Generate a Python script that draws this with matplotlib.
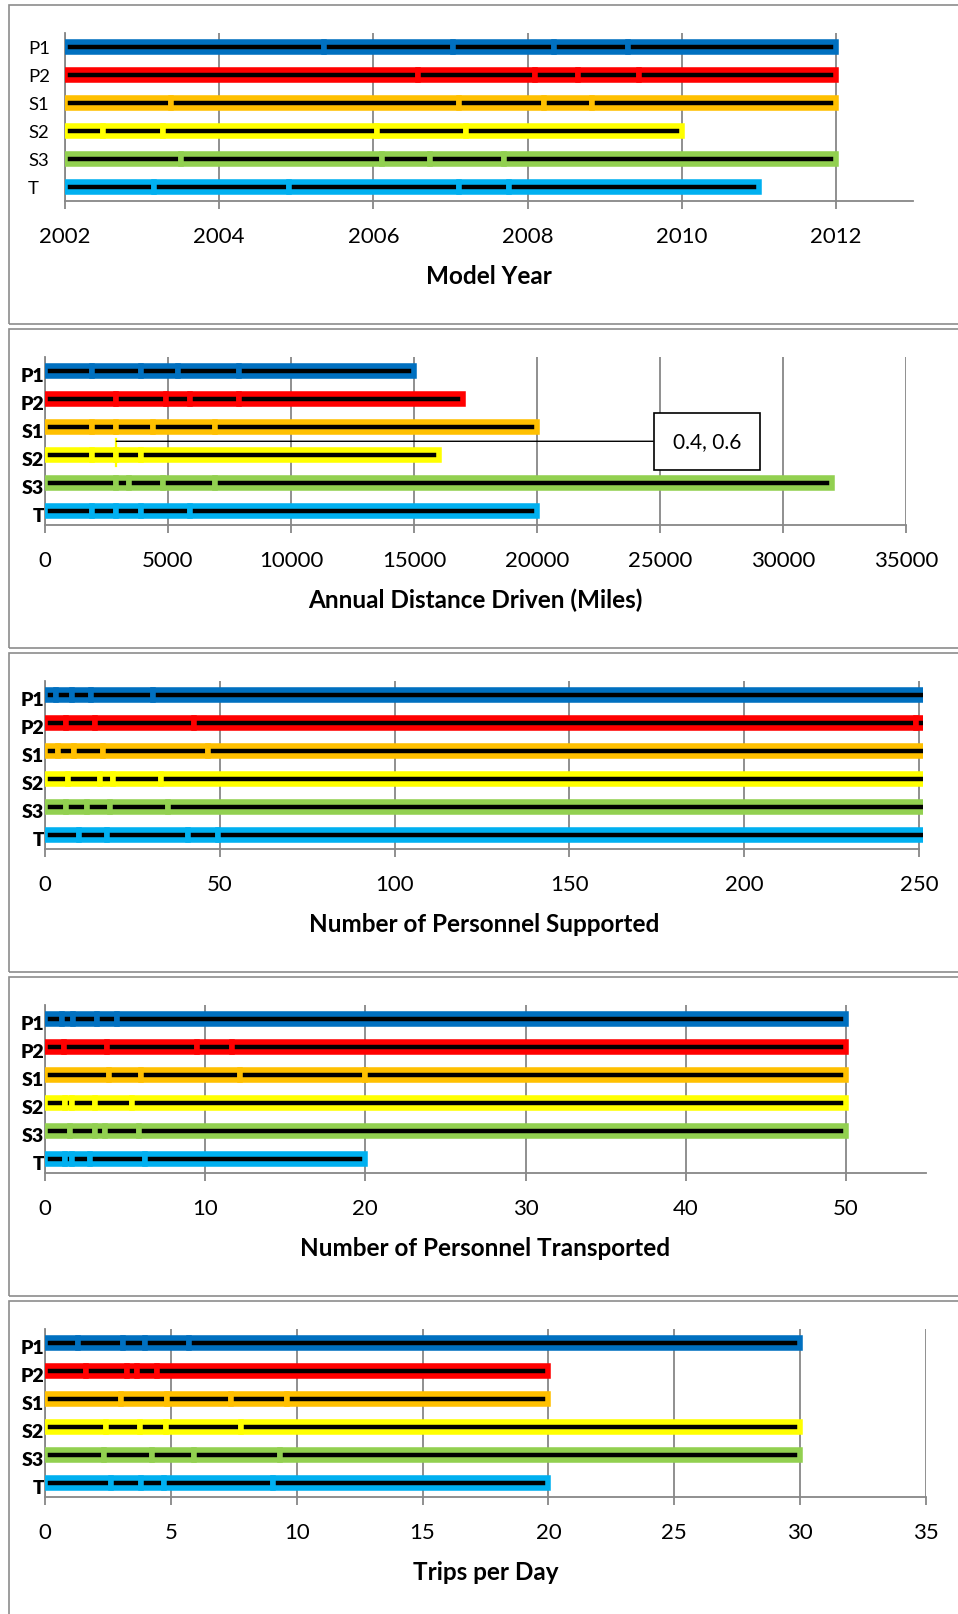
import matplotlib
matplotlib.use("Agg")
import matplotlib.pyplot as plt
from matplotlib.patches import Rectangle
from matplotlib.transforms import ScaledTranslation

categories = ["P1", "P2", "S1", "S2", "S3", "T"]
colors = ["#0070C0", "#FF0000", "#FFC000", "#FFFF00", "#92D050", "#00B0F0"]

# end points of the stacked segments, one list per category;
# every bar starts at the left end of its axis
model_year = [
    [2005.36, 2007.03, 2008.34, 2009.30, 2012],
    [2006.58, 2008.10, 2008.66, 2009.44, 2012],
    [2003.37, 2007.11, 2008.21, 2008.84, 2012],
    [2002.49, 2003.27, 2006.05, 2007.20, 2010],
    [2003.50, 2006.11, 2006.73, 2007.69, 2012],
    [2003.16, 2004.90, 2007.11, 2007.76, 2011],
]
annual_miles = [
    [1900, 3900, 5400, 7900, 15000],
    [2900, 4900, 5900, 7900, 17000],
    [1900, 2900, 4400, 6900, 20000],
    [1900, 2900, 3900, 16000],
    [2900, 3400, 4800, 6900, 32000],
    [1900, 2900, 3900, 5900, 20000],
]
personnel_supported = [
    [3.1, 7.6, 13.1, 31.0, 260],
    [5.9, 14.3, 42.7, 249.0, 260],
    [3.6, 8.3, 16.7, 46.7, 260],
    [6.5, 15.7, 19.4, 33.1, 260],
    [5.9, 11.9, 18.6, 35.1, 260],
    [9.6, 17.6, 41.0, 49.6, 260],
]
personnel_transported = [
    [1.08, 1.75, 3.27, 4.47, 50],
    [1.19, 3.87, 9.51, 11.70, 50],
    [3.97, 6.01, 12.20, 20.00, 50],
    [1.25, 1.67, 3.12, 5.43, 50],
    [1.54, 3.10, 3.77, 5.89, 50],
    [1.23, 1.67, 2.81, 6.22, 20],
]
trips_per_day = [
    [1.30, 3.10, 3.99, 5.73, 30],
    [1.64, 3.26, 3.64, 4.45, 20],
    [3.01, 4.85, 7.39, 9.60, 20],
    [2.41, 3.76, 4.81, 7.80, 30],
    [2.34, 4.25, 5.91, 9.34, 30],
    [2.64, 3.80, 4.72, 9.04, 20],
]

titles = ["Model Year", "Annual Distance Driven (Miles)", "Number of Personnel Supported",
          "Number of Personnel Transported", "Trips per Day"]
series = [model_year, annual_miles, personnel_supported, personnel_transported, trips_per_day]
xlims = [(2002, 2013), (0, 35000), (0, 251), (0, 55), (0, 35)]
xticks = [list(range(2002, 2013, 2)), list(range(0, 35001, 5000)), list(range(0, 251, 50)),
          list(range(0, 51, 10)), list(range(0, 36, 5))]

# data label on the S2 bar of the distance chart
label_text = "0.4, 0.6"
label_x = 2900
label_box_x = 26900

W, H = 958, 1615
fig = plt.figure(figsize=(W / 100, H / 100), dpi=100)
plt.rcParams["font.family"] = ["Lato", "DejaVu Sans"]

# plot areas in pixels: left, right, top, bottom
boxes = [(65, 913, 34, 202), (45, 906, 358, 526), (45, 922.5, 682, 850),
         (45, 926, 1006, 1174), (45, 926, 1330, 1498)]
frame_tops = [5.7, 329.5, 654, 977.7, 1301.7]
grey = "#878787"

for top in frame_tops:
    fig.add_artist(Rectangle((8.5 / W, 1 - (top + 319.3) / H), 1.2, 319.3 / H,
                             transform=fig.transFigure, fill=False, ec="#8c8c8c", lw=1.2))

for i, (data, title) in enumerate(zip(series, titles)):
    l, r, t, b = boxes[i]
    ax = fig.add_axes([l / W, 1 - b / H, (r - l) / W, (b - t) / H])
    x0 = xlims[i][0]
    for row, (ends, c) in enumerate(zip(data, colors)):
        lefts = [x0] + ends[:-1]
        widths = [e - s for s, e in zip(lefts, ends)]
        ax.barh([row] * len(widths), widths, left=lefts, height=0.37,
                color="black", edgecolor=c, linewidth=4.0, zorder=3)

    ax.set_xlim(*xlims[i])
    ax.set_ylim(5.5, -0.5)
    ax.set_xticks(xticks[i])
    ax.set_yticks(range(len(categories)))
    ax.set_yticklabels(categories)
    ax.set_axisbelow(True)
    ax.grid(axis="x", color=grey, lw=1.3)
    for s in ["top", "right"]:
        ax.spines[s].set_visible(False)
    for s in ["bottom", "left"]:
        ax.spines[s].set_color(grey)
        ax.spines[s].set_linewidth(1.3)
    ax.spines["bottom"].set_bounds(xlims[i][0], xlims[i][1] if i != 2 else 250)
    ax.tick_params(axis="x", direction="out", length=5.5, width=1.3, color=grey,
                   labelsize=16, pad=12.5)
    if i == 0:
        ax.tick_params(axis="y", length=0, pad=26.6, labelsize=13.3)
        for lab in ax.get_yticklabels():
            lab.set_horizontalalignment("left")
    else:
        ax.tick_params(axis="y", length=0, pad=0.7)
        for lab in ax.get_yticklabels():
            lab.set_fontweight("heavy")
            lab.set_fontsize(14)
            lab.set_transform(lab.get_transform() + ScaledTranslation(0, -0.03, fig.dpi_scale_trans))

    ax.text(0.5, 0, title, transform=ax.transAxes + ScaledTranslation(0, -0.825, fig.dpi_scale_trans),
            ha="center", va="baseline", fontsize=17.5, fontweight="bold")

    if i == 1:
        s2 = categories.index("S2")
        ax.plot([label_x, label_x], [s2 - 0.57, s2 + 0.39], color=colors[s2], lw=1.6, zorder=4)
        ax.annotate(label_text, xy=(label_x, s2 - 0.49), xytext=(label_box_x, s2 - 0.49),
                    ha="center", va="center", fontsize=15, zorder=5,
                    bbox=dict(boxstyle="square,pad=0.9", fc="white", ec="black", lw=1.2),
                    arrowprops=dict(arrowstyle="-", color="black", lw=1.0, shrinkA=0, shrinkB=0))

fig.savefig("out.png", dpi=100)
